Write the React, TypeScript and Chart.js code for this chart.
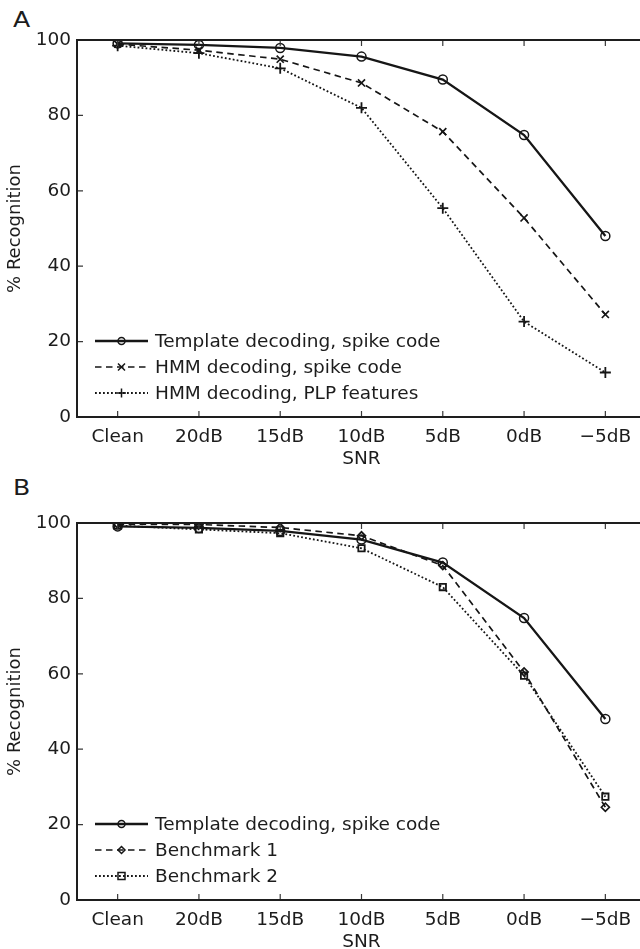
import React, { useEffect, useRef } from 'react';
import { Chart, registerables } from 'chart.js';

Chart.register(...registerables);

// ---------------- data ----------------
const categories = ['Clean', '20dB', '15dB', '10dB', '5dB', '0dB', '\u22125dB'];
const yTickStep = 20;
const yMin = 0;
const yMax = 100;

const templateSpike = [99.1, 98.7, 97.9, 95.6, 89.5, 74.8, 48.0];
const hmmSpike = [98.9, 97.3, 94.9, 88.6, 75.7, 52.8, 27.2];
const hmmPlp = [98.5, 96.5, 92.5, 82.0, 55.4, 25.3, 11.8];
const benchmark1 = [99.7, 99.6, 98.8, 96.6, 88.7, 60.5, 24.6];
const benchmark2 = [99.3, 98.3, 97.3, 93.3, 83.0, 59.5, 27.4];

const labelTemplate = 'Template decoding, spike code';
const labelHmmSpike = 'HMM decoding, spike code';
const labelHmmPlp = 'HMM decoding, PLP features';
const labelBench1 = 'Benchmark 1';
const labelBench2 = 'Benchmark 2';

const xTitle = 'SNR';
const yTitle = '% Recognition';

// ---------------- styling ----------------
const INK = '#161616';
const TXT = '#1c1c1c';
const FONT = '"DejaVu Sans", "Liberation Sans", Arial, sans-serif';
const CANVAS_W = 700;
const CANVAS_H = 475;

function solid(label: string, data: number[]) {
  return {
    label,
    data,
    borderColor: INK,
    borderWidth: 2.3,
    borderDash: [] as number[],
    pointStyle: 'circle',
    pointRadius: 4.5,
    pointBorderWidth: 1.5,
    pointBorderColor: INK,
    pointBackgroundColor: 'rgba(0,0,0,0)',
    tension: 0,
    fill: false,
  };
}
function dashed(label: string, data: number[], style: string, radius: number) {
  return {
    label,
    data,
    borderColor: INK,
    borderWidth: 1.7,
    borderDash: [6.5, 4.5],
    pointStyle: style,
    pointRadius: radius,
    pointBorderWidth: 1.7,
    pointBorderColor: INK,
    pointBackgroundColor: 'rgba(0,0,0,0)',
    tension: 0,
    fill: false,
  };
}
function dotted(label: string, data: number[], style: string, radius: number) {
  return {
    label,
    data,
    borderColor: INK,
    borderWidth: 1.8,
    borderDash: [1.8, 2.2],
    pointStyle: style,
    pointRadius: radius,
    pointBorderWidth: 1.8,
    pointBorderColor: INK,
    pointBackgroundColor: 'rgba(0,0,0,0)',
    tension: 0,
    fill: false,
  };
}

function drawMarker(ctx: CanvasRenderingContext2D, style: string, x: number, y: number, r: number) {
  ctx.beginPath();
  if (style === 'circle') {
    ctx.arc(x, y, r, 0, Math.PI * 2);
  } else if (style === 'crossRot') {
    ctx.moveTo(x - r, y - r); ctx.lineTo(x + r, y + r);
    ctx.moveTo(x - r, y + r); ctx.lineTo(x + r, y - r);
  } else if (style === 'cross') {
    ctx.moveTo(x - r, y); ctx.lineTo(x + r, y);
    ctx.moveTo(x, y - r); ctx.lineTo(x, y + r);
  } else if (style === 'rectRot') {
    ctx.moveTo(x, y - r); ctx.lineTo(x + r, y); ctx.lineTo(x, y + r); ctx.lineTo(x - r, y); ctx.closePath();
  } else if (style === 'rect') {
    ctx.rect(x - r, y - r, 2 * r, 2 * r);
  }
  ctx.stroke();
}

const framePlugin = {
  id: 'matFrame',
  afterDatasetsDraw(chart: any) {
    const { ctx, chartArea } = chart;
    const { left, right, top, bottom } = chartArea;
    const xs = chart.scales.x;
    const ys = chart.scales.y;
    ctx.save();
    ctx.strokeStyle = '#3a3a3a';
    ctx.lineWidth = 1.2;
    ctx.setLineDash([]);
    ctx.beginPath();
    xs.ticks.forEach((_: any, i: number) => {
      const px = xs.getPixelForTick(i);
      ctx.moveTo(px, bottom); ctx.lineTo(px, bottom - 6);
      ctx.moveTo(px, top); ctx.lineTo(px, top + 6);
    });
    ys.ticks.forEach((_: any, i: number) => {
      const py = ys.getPixelForTick(i);
      ctx.moveTo(left, py); ctx.lineTo(left + 6, py);
      ctx.moveTo(right, py); ctx.lineTo(right - 6, py);
    });
    ctx.stroke();
    ctx.strokeStyle = '#1e1e1e';
    ctx.lineWidth = 2;
    ctx.strokeRect(left, top, right - left, bottom - top);
    ctx.restore();
  },
};

const legendPlugin = {
  id: 'innerLegend',
  afterDraw(chart: any, _args: any, opts: any) {
    const { ctx, chartArea } = chart;
    const offsets: number[] = opts.offsets || [76, 50, 24];
    chart.data.datasets.forEach((ds: any, i: number) => {
      const y = chartArea.bottom - offsets[i];
      const x0 = chartArea.left + 18;
      const x1 = chartArea.left + 71;
      const xm = (x0 + x1) / 2;
      ctx.save();
      ctx.strokeStyle = ds.borderColor;
      ctx.lineWidth = ds.borderWidth;
      ctx.setLineDash(ds.borderDash || []);
      ctx.beginPath();
      ctx.moveTo(x0, y);
      ctx.lineTo(x1, y);
      ctx.stroke();
      ctx.setLineDash([]);
      ctx.lineWidth = 1.5;
      const r = ds.pointStyle === 'cross' ? 4.5 : 3.5;
      drawMarker(ctx, ds.pointStyle, xm, y, r);
      ctx.fillStyle = TXT;
      ctx.font = `18.5px ${FONT}`;
      ctx.textBaseline = 'middle';
      ctx.textAlign = 'left';
      ctx.fillText(ds.label, chartArea.left + 78, y + 1);
      ctx.restore();
    });
  },
};

function makeConfig(datasets: any[]) {
  return {
    type: 'line' as const,
    data: { labels: categories, datasets },
    plugins: [framePlugin, legendPlugin],
    options: {
      animation: false as const,
      responsive: false,
      maintainAspectRatio: false,
      devicePixelRatio: 1,
      events: [] as any[],
      layout: { padding: { top: 40, right: 54, bottom: 0, left: 0 } },
      plugins: {
        legend: { display: false },
        tooltip: { enabled: false },
        innerLegend: { offsets: [76, 50, 24] },
      },
      scales: {
        x: {
          type: 'category',
          offset: true,
          grid: { display: false, drawTicks: false },
          border: { display: false },
          ticks: {
            color: TXT,
            font: { family: FONT, size: 18.5 },
            padding: 9,
            maxRotation: 0,
            autoSkip: false,
          },
          title: {
            display: true,
            text: xTitle,
            color: TXT,
            font: { family: FONT, size: 18.5 },
            padding: { top: 0, bottom: 5 },
          },
          afterFit: (s: any) => { s.height = 58; },
        },
        y: {
          min: yMin,
          max: yMax,
          grid: { display: false, drawTicks: false },
          border: { display: false },
          ticks: {
            stepSize: yTickStep,
            color: TXT,
            font: { family: FONT, size: 18.5 },
            padding: 6,
          },
          title: {
            display: true,
            text: yTitle,
            color: TXT,
            font: { family: FONT, size: 18 },
            padding: { top: 5, bottom: 0 },
          },
          afterFit: (s: any) => { s.width = 77; },
        },
      },
    },
  };
}

function Panel({ datasets, top }: { datasets: any[]; top: number }) {
  const ref = useRef<HTMLCanvasElement>(null);
  useEffect(() => {
    if (!ref.current) return;
    const chart = new Chart(ref.current, makeConfig(datasets) as any);
    return () => chart.destroy();
  }, []);
  return (
    <canvas
      ref={ref}
      width={CANVAS_W}
      height={CANVAS_H}
      style={{ position: 'absolute', left: 0, top, width: CANVAS_W, height: CANVAS_H }}
    />
  );
}

const letterStyle: React.CSSProperties = {
  position: 'absolute',
  left: 13,
  fontFamily: FONT,
  fontSize: 21,
  lineHeight: '21px',
  color: TXT,
  transform: 'scaleX(1.2)',
  transformOrigin: 'left top',
};

export default function App() {
  const datasetsA = [
    solid(labelTemplate, templateSpike),
    dashed(labelHmmSpike, hmmSpike, 'crossRot', 5),
    dotted(labelHmmPlp, hmmPlp, 'cross', 5.5),
  ];
  const datasetsB = [
    solid(labelTemplate, templateSpike),
    dashed(labelBench1, benchmark1, 'rectRot', 4),
    dotted(labelBench2, benchmark2, 'rect', 4.5),
  ];
  return (
    <div
      style={{
        position: 'absolute',
        left: 0,
        top: 0,
        width: 640,
        height: 949,
        overflow: 'hidden',
        background: '#fff',
      }}
    >
      <div style={{ ...letterStyle, top: 10 }}>A</div>
      <div style={{ ...letterStyle, top: 478 }}>B</div>
      <Panel datasets={datasetsA} top={0} />
      <Panel datasets={datasetsB} top={483} />
    </div>
  );
}
